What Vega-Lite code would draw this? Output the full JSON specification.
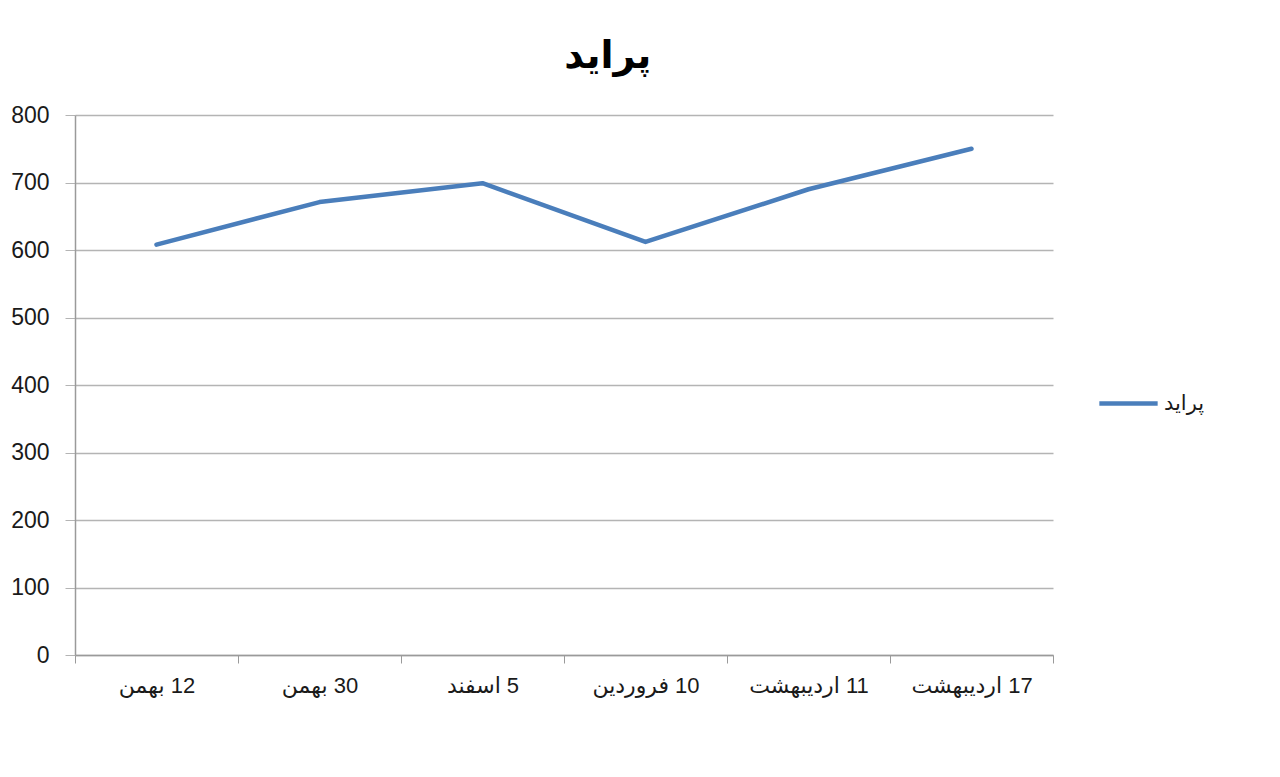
{
  "$schema": "https://vega.github.io/schema/vega-lite/v6.json",
  "width": 978,
  "height": 540,
  "autosize": {"type": "none"},
  "padding": {"left": 75, "top": 115, "right": 227, "bottom": 122},
  "background": "white",
  "title": {
    "text": "پراید",
    "fontSize": 38,
    "fontWeight": "bold",
    "font": "Liberation Sans, DejaVu Sans",
    "color": "#000000",
    "anchor": "middle",
    "frame": "bounds",
    "offset": 28
  },
  "data": {
    "values": [
      {"date": "بهمن\u200e 12", "value": 608, "series": "پراید"},
      {"date": "بهمن\u200e 30", "value": 671, "series": "پراید"},
      {"date": "اسفند\u200e 5", "value": 699, "series": "پراید"},
      {"date": "فروردین\u200e 10", "value": 612, "series": "پراید"},
      {"date": "اردیبهشت\u200e 11", "value": 690, "series": "پراید"},
      {"date": "اردیبهشت\u200e 17", "value": 750, "series": "پراید"}
    ]
  },
  "mark": {"type": "line", "strokeWidth": 4.5, "strokeCap": "round", "strokeJoin": "round"},
  "encoding": {
    "x": {
      "field": "date",
      "type": "nominal",
      "sort": null,
      "scale": {"type": "band", "paddingInner": 0, "paddingOuter": 0},
      "axis": {
        "title": null,
        "labelAngle": 0,
        "tickBand": "extent",
        "tickExtra": true,
        "tickSize": 8,
        "tickColor": "#9a9a9a",
        "domainColor": "#9a9a9a",
        "domainWidth": 1.5,
        "labelFontSize": 22,
        "labelFont": "Liberation Sans, DejaVu Sans",
        "labelColor": "#1a1a1a",
        "labelPadding": 12,
        "grid": false
      }
    },
    "y": {
      "field": "value",
      "type": "quantitative",
      "scale": {"domain": [0, 800], "nice": false},
      "axis": {
        "title": null,
        "values": [0, 100, 200, 300, 400, 500, 600, 700, 800],
        "tickSize": 10,
        "tickColor": "#b4b4b4",
        "domainColor": "#9a9a9a",
        "domainWidth": 1.5,
        "gridColor": "#b4b4b4",
        "gridWidth": 1.5,
        "labelFontSize": 23,
        "labelFont": "Liberation Sans, DejaVu Sans",
        "labelColor": "#1a1a1a",
        "labelPadding": 16
      }
    },
    "color": {
      "field": "series",
      "type": "nominal",
      "scale": {"range": ["#4a7ebb"]},
      "legend": {
        "title": null,
        "orient": "none",
        "legendX": 1022,
        "legendY": 257,
        "symbolType": "stroke",
        "symbolSize": 3400,
        "symbolStrokeWidth": 4.5,
        "labelFontSize": 21,
        "labelFont": "Liberation Sans, DejaVu Sans",
        "labelColor": "#1a1a1a",
        "labelOffset": 4
      }
    }
  },
  "config": {
    "view": {"stroke": null}
  }
}
